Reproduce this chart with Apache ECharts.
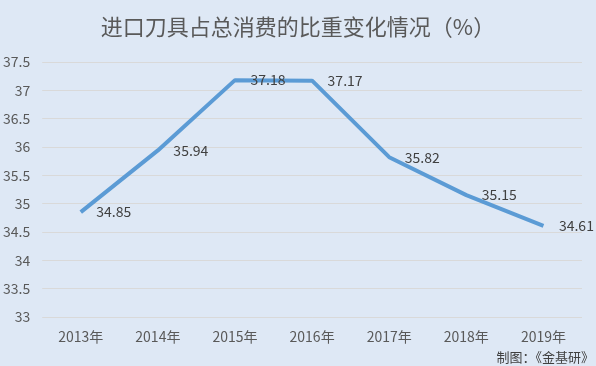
<!DOCTYPE html>
<html>
<head>
<meta charset="utf-8">
<script src="https://cdn.jsdelivr.net/npm/echarts@6/dist/echarts.min.js"></script>
<style>
html,body{margin:0;padding:0;background:#dee8f5;}
#c{width:596px;height:366px;}
</style>
</head>
<body>
<div id="c"></div>
<script>
const categories = ['2013年','2014年','2015年','2016年','2017年','2018年','2019年'];
const shareValues = [34.85, 35.94, 37.18, 37.17, 35.82, 35.15, 34.61];
const titleText = '进口刀具占总消费的比重变化情况（%）';
const sourceText = '制图：《金基研》';

const chart = echarts.init(document.getElementById('c'), null, {renderer:'canvas'});
chart.setOption({
  backgroundColor: '#dee8f5',
  animation: false,
  title: {
    text: titleText,
    left: 'center',
    top: 11,
    textStyle: {color:'#595959', fontSize:22, fontWeight:'normal', fontFamily:'Noto Sans CJK SC'}
  },
  graphic: [{
    type:'text', right: 2, bottom: 2,
    style: {text: sourceText, fill:'#404040', fontSize:13, fontFamily:'Noto Sans CJK SC'}
  }],
  grid: {left:40, right:14, top:62, bottom:49},
  xAxis: {
    type:'category',
    data: categories,
    axisLine:{show:false},
    axisTick:{show:false},
    axisLabel:{color:'#595959', fontSize:14, margin:13, fontFamily:'Noto Sans CJK SC'}
  },
  yAxis: {
    type:'value',
    min:33, max:37.5, interval:0.5,
    axisLine:{show:false},
    axisTick:{show:false},
    splitLine:{lineStyle:{color:'#d9d9d9', width:1}},
    axisLabel:{color:'#595959', fontSize:14, margin:12, fontFamily:'Noto Sans CJK SC'}
  },
  series: [{
    type:'line',
    data: shareValues,
    symbol:'circle',
    symbolSize:1,
    showSymbol:true,
    itemStyle:{color:'rgba(0,0,0,0)'},
    lineStyle:{color:'#5b9bd5', width:4, join:'round'},
    labelLayout:{hideOverlap:false},
    label:{show:true, position:'right', distance:15, offset:[0,2], color:'#404040', fontSize:14, fontFamily:'Noto Sans CJK SC'}
  }]
});
</script>
</body>
</html>
